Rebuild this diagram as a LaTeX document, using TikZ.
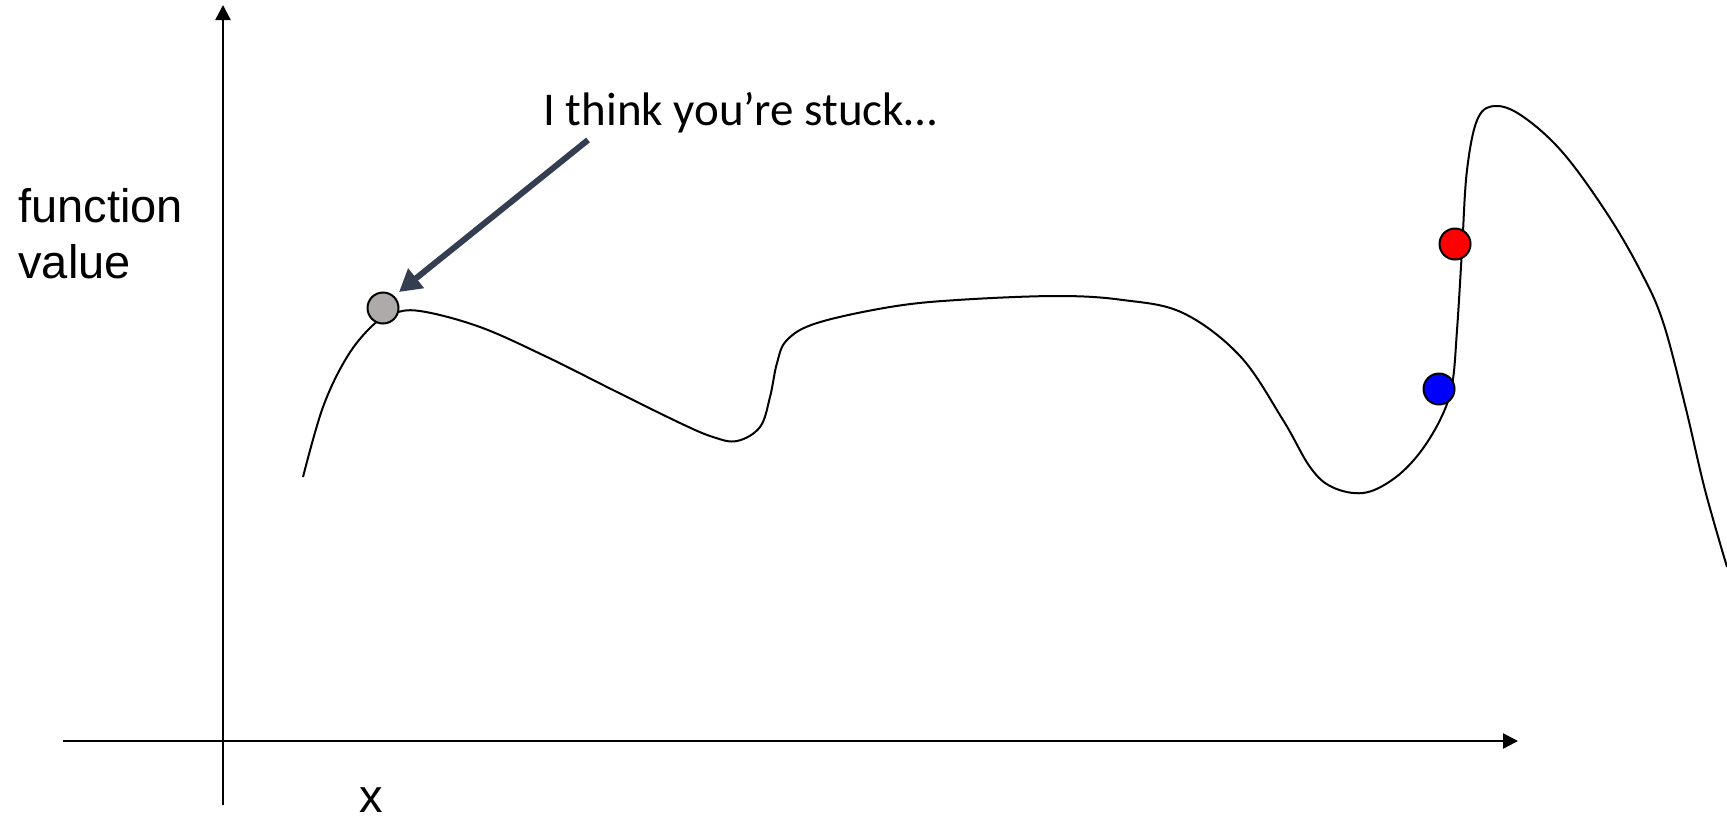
\documentclass[tikz,border=0pt]{standalone}
\usepackage{fontspec}
\setmainfont{Liberation Sans}
\newfontfamily\calibrifont{Carlito}
\usetikzlibrary{arrows.meta}
\definecolor{arrowslate}{HTML}{333F50}
\definecolor{dotgray}{HTML}{AEAAAA}
\begin{document}
\begin{tikzpicture}[x=0.5pt,y=-0.5pt,
  axis/.style={line width=1.2pt, -{Triangle[length=7.5pt,width=7.5pt]}},
  fcurve/.style={line width=1pt},
  dot/.style={circle, draw=black, line width=1pt, minimum size=15.5pt, inner sep=0pt},
  callarrow/.style={draw=arrowslate, line width=3pt, -{Triangle[length=11pt,width=12pt]}},
  lab/.style={inner sep=0pt, font=\fontsize{23.5}{28}\selectfont}]
\useasboundingbox (0,0) rectangle (1727,815);
% axes
\coordinate (ybot) at (223,805);
\coordinate (ytop) at (223,5);
\coordinate (xleft) at (63,741);
\coordinate (xright) at (1518,741);
\draw[axis] (ybot) -- (ytop);
\draw[axis] (xleft) -- (xright);
% labels
\node[lab, anchor=base west] (funclab) at (18,222) {function};
\node[lab, anchor=base west] (valuelab) at (18,278) {value};
\node[lab, anchor=base] (xlab) at (371,812) {x};
\node[lab, anchor=base west, font=\calibrifont\fontsize{23.5}{28}\selectfont] (stuck) at (543,125) {I think you’re stuck…};
% curve
\draw[fcurve] plot[smooth, tension=0.6] coordinates {
 (303,477) (323,407) (347,357) (372,326) (392,314) (420,311) (480,327)
 (547,357) (613,390) (680,423) (713,437) (737,441) (760,427) (770,397)
 (777,363) (787,340) (817,323) (890,307) (957,300) (1057,296) (1123,300)
 (1183,313) (1240,356) (1283,420) (1310,467) (1332,487)
 (1363,493) (1392,480) (1418,455) (1440,420) (1452,385) (1457,330)
 (1462,250) (1467,170) (1478,118) (1497,106) (1525,118) (1564,154)
 (1608,215) (1641,272) (1663,322) (1685,405) (1705,490) (1727,567)};
% dots
\node[dot, fill=dotgray] (gray) at (383,308) {};
\node[dot, fill=red] (reddot) at (1455,244) {};
\node[dot, fill=blue] (bluedot) at (1439,389) {};
% callout arrow
\coordinate (arrstart) at (588,140);
\coordinate (arrtip) at (399,292);
\draw[callarrow] (arrstart) -- (arrtip);
\end{tikzpicture}
\end{document}
